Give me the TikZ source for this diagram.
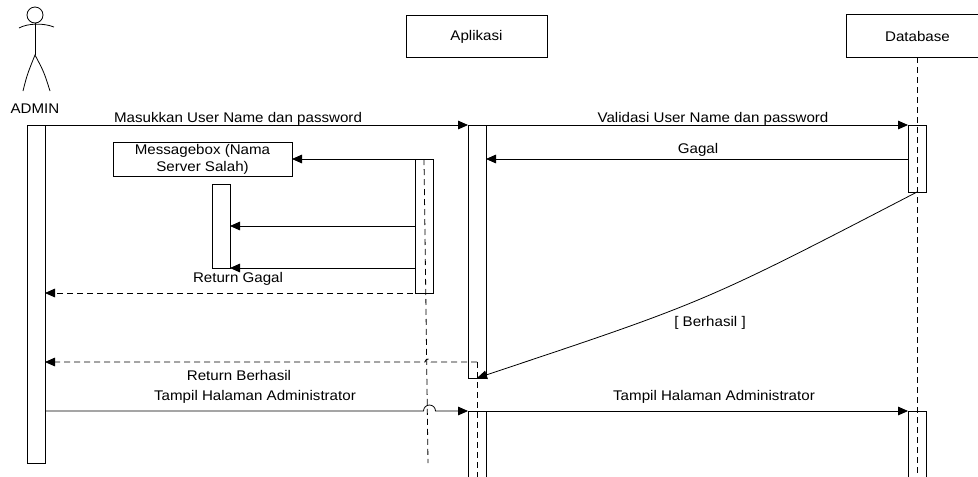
\documentclass[tikz,border=0pt]{standalone}
\usepackage{fontspec}
\setmainfont{Liberation Sans}[FakeStretch=1.08]
\usetikzlibrary{arrows.meta}

\begin{document}
\begin{tikzpicture}[x=0.75pt, y=-0.75pt, line width=0.6pt, font=\fontsize{10.5}{12.75}\selectfont,
	every node/.style={outer sep=0pt, inner sep=0pt},
	obj/.style={draw, minimum height=32pt},
	bar/.style={draw, minimum width=13.5pt},
	msg/.style={-{Triangle[length=7.5pt, width=6.5pt]}},
	ret/.style={msg, dash pattern=on 4.5pt off 3pt},
	life/.style={dash pattern=on 4.5pt off 3pt},
	lbl/.style={anchor=base}]
	
	\useasboundingbox (0,0) rectangle (978,476);
	\clip (0,0) rectangle (978,476);
	
	% Aktor
	\draw (35,15) circle[radius=6pt];
	\draw (19,28) .. controls (28,23) and (44,23) .. (54,27);
	\draw (35,23) -- (35,55);
	\draw (23,91) .. controls (27,75) .. (35,55) .. controls (44,72) .. (50,91);
	\node[lbl] (admin) at (35,113) {ADMIN};
	
	% Objek
	\node[obj, minimum width=105.75pt] (apl) at (476.5,36.5) {Aplikasi};
	\node[obj, minimum width=106.5pt] (db) at (917.5,36) {Database};
	
	% Activation bar
	\node[bar, minimum height=253.5pt] (adminbar) at (36,294) {};
	\node[bar, minimum height=189.75pt] (aplbar1) at (477,251.5) {};
	\node[bar, minimum height=51pt] (aplbar2) at (477,445) {};
	\node[bar, minimum height=50.25pt] (dbbar1) at (917,158.5) {};
	\node[bar, minimum height=51pt] (dbbar2) at (917,445) {};
	\node[bar, minimum height=100.5pt] (subbar) at (424,226) {};
	\node[bar, minimum height=63pt] (smallbar) at (221,226) {};
	\node[draw, minimum width=134.25pt, minimum height=25.5pt, align=center] (msgbox) at (202.5,159) {Messagebox (Nama\\Server Salah)};
	
	% Lifeline
	\coordinate (aplret) at (477,362);
	\coordinate (aplend) at (477,480);
	\coordinate (dbend) at (917.5,480);
	\coordinate (subend) at (428,463);
	\draw[life] (db.south) -- (dbend);
	\draw[life] (aplret) -- (aplend);
	\draw[life] (subbar.north) -- (subend);
	
	% Pesan
	\draw[msg] (adminbar.north west) -- (aplbar1.north west);
	\draw[msg] (aplbar1.north east) -- (dbbar1.north west);
	\draw[msg] (dbbar1.west |- subbar.north) -- (aplbar1.east |- subbar.north);
	\draw[msg] (subbar.north west) -- (msgbox.east);
	\draw[msg] (subbar.west |- smallbar.center) -- (smallbar.east);
	\draw[msg] (subbar.west |- smallbar.south) -- (smallbar.south east);
	\draw[ret] (subbar.south east) -- (adminbar.east |- subbar.south);
	\draw[msg] (dbbar1.south) .. controls (705,302) .. (aplbar1.south);
	\draw[ret] (aplret) -- (431,362) arc[start angle=0, end angle=180, radius=2.25pt] -- (adminbar.east |- aplret);
	\draw[msg] (adminbar.east |- aplbar2.north) -- (423.5,411) arc[start angle=180, end angle=0, radius=4.5pt] -- (aplbar2.north west);
	\draw[msg] (aplbar2.north east) -- (dbbar2.north west);
	
	% Label
	\node[lbl] (lmasuk) at (238,122) {Masukkan User Name dan password};
	\node[lbl] (lvalid) at (713,122) {Validasi User Name dan password};
	\node[lbl] (lgagal) at (698,153) {Gagal};
	\node[lbl] (lretgagal) at (238,282) {Return Gagal};
	\node[lbl] (lberhasil) at (710,326) {[ Berhasil ]};
	\node[lbl] (lretberhasil) at (239,380) {Return Berhasil};
	\node[lbl] (ltampil1) at (255,400) {Tampil Halaman Administrator};
	\node[lbl] (ltampil2) at (714,400) {Tampil Halaman Administrator};
	
\end{tikzpicture}
\end{document}
